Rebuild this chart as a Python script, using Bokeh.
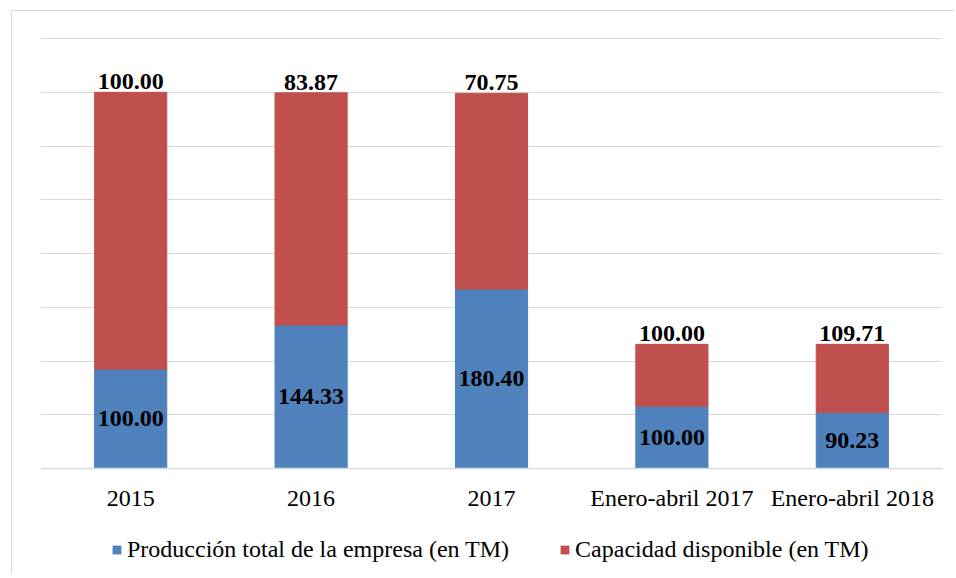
from bokeh.plotting import figure
from bokeh.layouts import column
from bokeh.models import ColumnDataSource, Range1d, FactorRange, Legend, LegendItem, SingleIntervalTicker
from bokeh.core.properties import value
from bokeh.embed import file_html
from bokeh.resources import INLINE

categories = ["2015", "2016", "2017", "Enero-abril 2017", "Enero-abril 2018"]
produccion = [1.85, 2.67, 3.34, 1.16, 1.04]
capacidad = [5.15, 4.32, 3.64, 1.15, 1.27]
produccion_idx = ["100.00", "144.33", "180.40", "100.00", "90.23"]
capacidad_idx = ["100.00", "83.87", "70.75", "100.00", "109.71"]
series_names = ["Producción total de la empresa (en TM)", "Capacidad disponible (en TM)"]

BLUE = "#4F81BD"
RED = "#C0504D"
GRID = "#D9D9D9"
FONT = "Liberation Serif"

total = [a + b for a, b in zip(produccion, capacidad)]
mid = [a / 2 for a in produccion]
src = ColumnDataSource(dict(cat=categories, prod=produccion, cap=capacidad,
                            total=total, mid=mid,
                            prod_lbl=produccion_idx, cap_lbl=capacidad_idx))

p = figure(width=942, height=505, x_range=FactorRange(*categories),
           y_range=Range1d(0, 8.02), output_backend="svg", toolbar_location=None,
           min_border_left=28, min_border_right=12, min_border_top=26, min_border_bottom=48)
p.outline_line_color = None

r1 = p.vbar(x="cat", bottom=0, top="prod", width=0.4, color=BLUE, source=src)
r2 = p.vbar(x="cat", bottom="prod", top="total", width=0.4, color=RED, source=src)

p.text(x="cat", y="mid", text="prod_lbl", source=src, text_align="center", text_baseline="middle",
       text_font=value(FONT), text_font_style="bold", text_font_size="24px", text_color="black")
p.text(x="cat", y="total", text="cap_lbl", source=src, text_align="center", text_baseline="bottom",
       y_offset=-3, text_font=value(FONT), text_font_style="bold", text_font_size="24px", text_color="black")

p.yaxis.visible = False
p.ygrid.ticker = SingleIntervalTicker(interval=1)
p.ygrid.grid_line_color = GRID
p.ygrid.grid_line_width = 1
p.xgrid.grid_line_color = None

p.xaxis.axis_line_color = GRID
p.xaxis.axis_line_width = 1.5
p.xaxis.major_tick_line_color = None
p.xaxis.minor_tick_line_color = None
p.xaxis.major_label_text_font = FONT
p.xaxis.major_label_text_font_size = "24px"
p.xaxis.major_label_text_color = "black"
p.xaxis.major_label_standoff = 10

leg_fig = figure(width=942, height=58, output_backend="svg", toolbar_location=None,
                 x_range=Range1d(0, 1), y_range=Range1d(0, 1),
                 x_axis_location=None, y_axis_location=None,
                 min_border_left=0, min_border_right=0, min_border_top=0, min_border_bottom=0)
leg_fig.outline_line_color = None
leg_fig.grid.visible = False
lr1 = leg_fig.vbar(x=[0.5], bottom=[0], top=[0], width=0.0, fill_color=BLUE, line_color=None)
lr2 = leg_fig.vbar(x=[0.5], bottom=[0], top=[0], width=0.0, fill_color=RED, line_color=None)

legend = Legend(items=[LegendItem(label=series_names[0], renderers=[lr1]),
                       LegendItem(label=series_names[1], renderers=[lr2])],
                orientation="horizontal", location=(71, 11))
legend.glyph_width = 11
legend.glyph_height = 11
legend.label_standoff = 5
legend.spacing = 50
legend.padding = 0
legend.margin = 0
legend.border_line_color = None
legend.background_fill_alpha = 0
legend.label_text_font = FONT
legend.label_text_font_size = "24px"
legend.label_text_color = "black"
leg_fig.add_layout(legend, "center")

layout = column(p, leg_fig, spacing=0, margin=(10, 0, 0, 11),
                styles={"border-left": "1px solid #D9D9D9", "border-top": "1px solid #D9D9D9"})

open("out.html", "w").write(file_html(layout, INLINE))
